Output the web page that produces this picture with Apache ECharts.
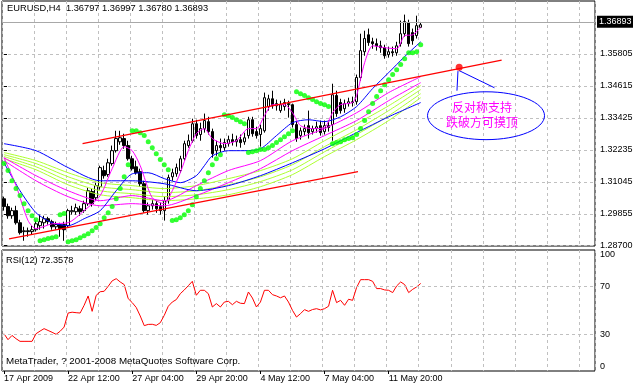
<!DOCTYPE html>
<html><head><meta charset="utf-8">
<script src="https://cdn.jsdelivr.net/npm/echarts@6/dist/echarts.min.js"></script>
<style>html,body{margin:0;padding:0;background:#fff}#c{width:633px;height:387px}</style>
</head><body><div id="c"></div>
<script>
const FONT = '"Liberation Sans", Arial, sans-serif';
const symbolName = 'EURUSD,H4';
const slotCount = 148;
const tickLabels = ['17 Apr 2009','22 Apr 12:00','27 Apr 04:00','29 Apr 20:00','4 May 12:00','7 May 04:00','11 May 20:00'];
const priceTicks = [1.28700, 1.29855, 1.31045, 1.32235, 1.33425, 1.34615, 1.35805];
const priceMin = 1.28665, priceMax = 1.37776, priceStep = 0.0119;
const rsiTicks = [0, 30, 70, 100];
const rsiLevels = [30, 70];

// [open, close, low, high]
const candles = [
[1.3042,1.3013,1.2998,1.3050],[1.3013,1.2979,1.2968,1.3024],[1.2979,1.2998,1.2968,1.3009],[1.2998,1.2953,1.2946,1.3016],
[1.2953,1.2916,1.2909,1.2964],[1.2920,1.2923,1.2886,1.2938],[1.2923,1.2920,1.2901,1.2935],[1.2920,1.2927,1.2909,1.2942],
[1.2927,1.2949,1.2920,1.2961],[1.2942,1.2957,1.2927,1.2983],[1.2953,1.2968,1.2931,1.2979],[1.2968,1.2957,1.2946,1.2975],
[1.2957,1.2938,1.2927,1.2964],[1.2938,1.2946,1.2927,1.2957],[1.2946,1.2931,1.2901,1.2953],[1.2946,1.2927,1.2886,1.2957],
[1.2942,1.2998,1.2935,1.3005],[1.2994,1.2998,1.2983,1.3016],[1.2994,1.3009,1.2983,1.3024],[1.3005,1.2994,1.2979,1.3016],
[1.2998,1.3024,1.2990,1.3035],[1.3024,1.3072,1.3016,1.3083],[1.3069,1.3024,1.3013,1.3080],[1.3046,1.3091,1.3035,1.3102],
[1.3087,1.3158,1.3076,1.3165],[1.3147,1.3128,1.3117,1.3165],[1.3132,1.3176,1.3124,1.3191],[1.3173,1.3221,1.3165,1.3240],
[1.3221,1.3266,1.3214,1.3295],[1.3254,1.3269,1.3243,1.3295],[1.3266,1.3240,1.3228,1.3284],[1.3240,1.3191,1.3184,1.3258],
[1.3191,1.3154,1.3147,1.3202],[1.3161,1.3139,1.3132,1.3184],[1.3143,1.3098,1.3087,1.3154],[1.3098,1.2998,1.2990,1.3109],
[1.2998,1.3016,1.2983,1.3028],[1.3016,1.3024,1.3002,1.3039],[1.3024,1.3005,1.2990,1.3035],[1.3013,1.2998,1.2983,1.3028],
[1.2998,1.3035,1.2961,1.3050],[1.3035,1.3121,1.3024,1.3132],[1.3124,1.3139,1.3109,1.3154],[1.3135,1.3158,1.3124,1.3173],
[1.3147,1.3191,1.3139,1.3202],[1.3191,1.3247,1.3184,1.3258],[1.3240,1.3258,1.3232,1.3281],[1.3258,1.3321,1.3251,1.3340],
[1.3321,1.3277,1.3266,1.3336],[1.3281,1.3303,1.3258,1.3325],[1.3303,1.3333,1.3288,1.3359],[1.3329,1.3292,1.3281,1.3347],
[1.3292,1.3210,1.3195,1.3303],[1.3221,1.3240,1.3202,1.3258],[1.3240,1.3232,1.3214,1.3266],[1.3232,1.3251,1.3221,1.3266],
[1.3247,1.3262,1.3236,1.3277],[1.3262,1.3254,1.3240,1.3284],[1.3254,1.3262,1.3236,1.3277],[1.3262,1.3251,1.3232,1.3281],
[1.3254,1.3269,1.3243,1.3288],[1.3277,1.3336,1.3266,1.3347],[1.3336,1.3284,1.3273,1.3347],[1.3292,1.3277,1.3266,1.3310],
[1.3281,1.3303,1.3236,1.3318],[1.3295,1.3418,1.3288,1.3437],[1.3385,1.3414,1.3370,1.3429],[1.3414,1.3388,1.3377,1.3444],
[1.3388,1.3396,1.3370,1.3411],[1.3370,1.3392,1.3362,1.3407],[1.3385,1.3400,1.3370,1.3414],[1.3396,1.3392,1.3344,1.3407],
[1.3392,1.3318,1.3307,1.3396],[1.3318,1.3266,1.3254,1.3329],[1.3277,1.3295,1.3262,1.3307],[1.3292,1.3303,1.3277,1.3318],
[1.3314,1.3288,1.3266,1.3370],[1.3292,1.3303,1.3281,1.3314],[1.3303,1.3310,1.3288,1.3329],[1.3314,1.3288,1.3277,1.3333],
[1.3292,1.3314,1.3281,1.3333],[1.3314,1.3307,1.3292,1.3333],[1.3318,1.3429,1.3258,1.3470],[1.3426,1.3359,1.3347,1.3444],
[1.3400,1.3370,1.3359,1.3414],[1.3377,1.3396,1.3362,1.3411],[1.3396,1.3403,1.3385,1.3418],[1.3403,1.3400,1.3385,1.3422],
[1.3403,1.3493,1.3392,1.3504],[1.3493,1.3593,1.3481,1.3656],[1.3589,1.3638,1.3574,1.3667],[1.3652,1.3623,1.3611,1.3675],
[1.3626,1.3619,1.3600,1.3641],[1.3619,1.3611,1.3593,1.3638],[1.3611,1.3604,1.3585,1.3630],[1.3604,1.3574,1.3563,1.3615],
[1.3578,1.3589,1.3567,1.3608],[1.3589,1.3585,1.3571,1.3608],[1.3585,1.3611,1.3574,1.3626],[1.3619,1.3656,1.3608,1.3705],
[1.3656,1.3701,1.3645,1.3727],[1.3697,1.3619,1.3608,1.3708],[1.3660,1.3630,1.3615,1.3675],[1.3649,1.3686,1.3638,1.3723],
[1.36797,1.36893,1.36780,1.36997]
];

const sar = [
1.3173,1.3147,1.3109,1.3080,1.3054,1.3024,1.2998,1.2979,1.2964,1.2886,
1.2890,1.2894,1.2897,1.2901,1.2983,1.2987,1.2882,1.2886,1.2890,1.2897,
1.2905,1.2912,1.2923,1.2935,1.2949,1.2972,1.2990,1.3013,1.3042,1.3080,
1.3124,1.3169,1.3295,1.3295,1.3288,1.3277,1.3254,1.3232,1.3210,1.3188,
1.3169,1.3150,1.2961,1.2964,1.2972,1.2983,1.2998,1.3020,1.3050,1.3080,
1.3109,1.3139,1.3169,1.3191,1.3206,1.3355,1.3351,1.3344,1.3336,1.3329,
1.3321,1.3214,1.3217,1.3221,1.3225,1.3225,1.3232,1.3240,1.3251,1.3262,
1.3273,1.3284,1.3295,1.3440,1.3433,1.3426,1.3418,1.3411,1.3403,1.3396,
1.3392,1.3385,1.3247,1.3251,1.3254,1.3262,1.3266,1.3269,1.3281,1.3303,
1.3333,1.3366,1.3396,1.3422,1.3444,1.3466,1.3485,1.3504,1.3522,1.3541,
1.3563,1.3585,1.3585,1.3589,1.3615
];

// moving averages: [bar, price]
const maMagentaFast = [[0,1.3195],[3,1.3091],[6,1.2961],[8,1.2931],[12,1.2949],[16,1.2953],[20,1.2998],[24,1.3054],[27,1.3154],[30,1.3236],[32,1.3221],[34,1.3165],[37,1.3046],[40,1.3024],[42,1.3072],[44,1.3139],[46,1.3221],[48,1.3284],[50,1.3303],[52,1.3266],[55,1.3247],[58,1.3258],[61,1.3303],[63,1.3303],[65,1.3351],[67,1.3392],[70,1.3392],[72,1.3362],[74,1.3314],[77,1.3303],[80,1.3307],[82,1.3362],[84,1.3392],[87,1.3400],[88,1.3426],[90,1.3548],[92,1.3611],[95,1.3604],[98,1.3600],[100,1.3649],[102,1.3652],[104,1.3679]];
const maBlueFast = [[0,1.3176],[4,1.3072],[8,1.2990],[12,1.2953],[16,1.2942],[20,1.2968],[24,1.2998],[28,1.3072],[32,1.3135],[36,1.3139],[40,1.3117],[44,1.3102],[48,1.3128],[50,1.3165],[52,1.3202],[56,1.3221],[60,1.3221],[64,1.3228],[68,1.3277],[72,1.3325],[76,1.3336],[80,1.3329],[84,1.3347],[88,1.3385],[92,1.3452],[96,1.3511],[100,1.3571],[104,1.3626]];
const maBlueSlow = [[0,1.3247],[8,1.3221],[16,1.3158],[24,1.3109],[32,1.3109],[40,1.3098],[48,1.3072],[56,1.3091],[64,1.3128],[72,1.3176],[80,1.3228],[88,1.3288],[96,1.3347],[104,1.3400]];
const maMagenta2 = [[0,1.3195],[8,1.3128],[16,1.3072],[24,1.3035],[32,1.3054],[40,1.3035],[48,1.3091],[56,1.3147],[64,1.3184],[72,1.3258],[80,1.3303],[88,1.3362],[96,1.3437],[104,1.3496]];
const maMagenta3 = [[0,1.3184],[8,1.3109],[16,1.3050],[24,1.3016],[32,1.3024],[40,1.3016],[48,1.3054],[56,1.3102],[64,1.3154],[72,1.3221],[80,1.3277],[88,1.3333],[96,1.3407],[104,1.3474]];
const maYellow1 = [[0,1.3214],[8,1.3184],[16,1.3139],[24,1.3102],[32,1.3091],[40,1.3080],[48,1.3091],[56,1.3117],[64,1.3147],[72,1.3191],[80,1.3258],[88,1.3321],[96,1.3388],[104,1.3463]];
const maYellow2 = [[0,1.3206],[8,1.3173],[16,1.3124],[24,1.3087],[32,1.3076],[40,1.3065],[48,1.3072],[56,1.3094],[64,1.3124],[72,1.3169],[80,1.3236],[88,1.3299],[96,1.3370],[104,1.3448]];
const maYellow3 = [[0,1.3199],[8,1.3161],[16,1.3109],[24,1.3072],[32,1.3061],[40,1.3050],[48,1.3057],[56,1.3076],[64,1.3106],[72,1.3150],[80,1.3217],[88,1.3281],[96,1.3351],[104,1.3433]];
const maYellow4 = [[0,1.3191],[8,1.3150],[16,1.3094],[24,1.3057],[32,1.3046],[40,1.3035],[48,1.3042],[56,1.3057],[64,1.3087],[72,1.3132],[80,1.3199],[88,1.3262],[96,1.3333],[104,1.3418]];

const rsi = [30.8,25.9,29.4,26.7,24.5,24.5,24.5,24.5,30.8,33.0,
35.0,33.5,32.0,30.3,32.8,36.3,47.9,48.6,48.2,47.9,
54.3,62.0,49.3,62.5,65.5,65.9,70.0,74.5,76.3,73.6,
71.4,59.8,56.5,52.5,45.5,37.5,38.5,38.6,37.7,39.9,
46.0,53.5,57.0,59.0,63.9,67.0,70.5,74.1,62.6,66.7,
66.7,63.9,52.9,55.7,52.9,57.0,57.6,54.8,57.6,56.0,
55.7,65.3,60.3,52.9,57.0,66.7,66.7,63.1,62.0,60.5,
62.0,57.0,50.1,44.6,47.4,50.7,49.3,50.8,51.5,50.5,
51.5,53.5,66.7,56.5,58.4,54.3,59.3,58.4,69.0,75.5,
75.5,75.5,74.1,68.1,68.1,67.0,66.7,64.8,70.3,73.6,
71.4,64.8,67.5,69.5,72.3578];

const trendUpper = [[19.6,1.3247],[124.2,1.3558]];
const trendLower = [[1.25,1.2893],[88.35,1.3143]];
const notePoint = [113.6, 1.3531];
const notePointerA = [[113.3,1.3517],[113.05,1.3444]];
const notePointerB = [[113.55,1.3519],[122.4,1.3455]];
const noteCenter = [120.3, 1.3351];
const noteRadius = [14.6, 0.0089];
const noteText = '反对称支持\n跌破方可摸顶';

const last = candles[candles.length - 1];
const headerText = symbolName + '  ' + [last[0], last[3], last[2], last[1]].map(v => v.toFixed(5)).join(' ');
const rsiText = 'RSI(12) ' + rsi[rsi.length - 1].toFixed(4);
const copyright = 'MetaTrader, ? 2001-2008 MetaQuotes Software Corp.';

const cats = Array.from({length: slotCount}, (_, i) => String(i));
const grid8 = (i) => i % 8 === 0;
const dash = {color: '#c0c0c0', type: [3, 3], width: 1};

function maLine(data, color) {
  return {type: 'line', xAxisIndex: 2, yAxisIndex: 0, data, symbol: 'none', smooth: 0.25,
    lineStyle: {color, width: 1}, silent: true, z: 3};
}

const chart = echarts.init(document.getElementById('c'), null, {renderer: 'canvas'});
chart.setOption({
  animation: false,
  backgroundColor: '#fff',
  grid: [
    {left: 2, top: 1, width: 593, height: 245, show: true, borderColor: '#000', borderWidth: 1, backgroundColor: '#fff', outerBoundsMode: 'none'},
    {left: 2, top: 250, width: 593, height: 121, show: true, borderColor: '#000', borderWidth: 1, backgroundColor: '#fff', outerBoundsMode: 'none'}
  ],
  xAxis: [
    {type: 'category', gridIndex: 0, data: cats, boundaryGap: true,
     axisLine: {show: false}, axisTick: {show: false}, axisLabel: {show: false},
     splitLine: {show: true, interval: grid8, lineStyle: dash}},
    {type: 'category', gridIndex: 1, data: cats, boundaryGap: true,
     axisLine: {show: false},
     axisTick: {show: true, alignWithLabel: true, length: 3, interval: (i) => i % 16 === 0 && i / 16 < tickLabels.length, lineStyle: {color: '#000'}},
     axisLabel: {show: true, interval: (i) => i % 16 === 0 && i / 16 < tickLabels.length,
       formatter: (v, i) => tickLabels[Math.round(Number(v) / 16)] || '',
       align: 'left', margin: 3, fontSize: 9, color: '#000', fontFamily: FONT},
     splitLine: {show: true, interval: grid8, lineStyle: dash}},
    {type: 'value', gridIndex: 0, min: -0.5, max: slotCount - 0.5, show: false}
  ],
  yAxis: [
    {type: 'value', gridIndex: 0, position: 'right', min: priceMin, max: priceMax, interval: priceStep,
     axisLine: {show: false},
     axisTick: {show: true, customValues: priceTicks, length: 3, lineStyle: {color: '#000'}},
     axisLabel: {customValues: priceTicks, formatter: (v) => v.toFixed(5), margin: 5, fontSize: 9, color: '#000', fontFamily: FONT},
     splitLine: {show: true, lineStyle: dash}},
    {type: 'value', gridIndex: 1, position: 'right', min: 0, max: 100, interval: 10,
     axisLine: {show: false}, axisTick: {show: false},
     axisLabel: {customValues: rsiTicks, formatter: (v) => rsiTicks.includes(v) ? String(v) : '',
       verticalAlignMinLabel: 'bottom', verticalAlignMaxLabel: 'top',
       margin: 5, fontSize: 9, color: '#000', fontFamily: FONT},
     splitLine: {show: false}}
  ],
  series: [
    {type: 'candlestick', xAxisIndex: 0, yAxisIndex: 0, data: candles, barWidth: 3, z: 2, silent: true,
     itemStyle: {color: '#fff', color0: '#000', borderColor: '#000', borderColor0: '#000', borderWidth: 1},
     markLine: {silent: true, symbol: ['none', 'none'], data: [{yAxis: last[1]}],
       lineStyle: {color: '#a8a8a8', type: 'solid', width: 1},
       label: {position: 'end', formatter: last[1].toFixed(5), color: '#fff', backgroundColor: '#000',
         padding: [2, 2, 1, 2], fontSize: 9, distance: 2, fontFamily: FONT}}},
    maLine(maYellow4, '#adff2f'),
    maLine(maYellow3, '#adff2f'),
    maLine(maYellow2, '#adff2f'),
    maLine(maYellow1, '#adff2f'),
    maLine(maMagenta3, '#ff00ff'),
    maLine(maMagenta2, '#ff00ff'),
    maLine(maBlueSlow, '#0000ff'),
    maLine(maBlueFast, '#0000ff'),
    maLine(maMagentaFast, '#ff00ff'),
    {type: 'scatter', xAxisIndex: 0, yAxisIndex: 0, data: sar, symbol: 'circle', symbolSize: 5,
     itemStyle: {color: '#00ff00'}, silent: true, z: 4},
    {id: 'trendUp', type: 'line', xAxisIndex: 2, yAxisIndex: 0, data: trendUpper, symbol: 'none', lineStyle: {color: '#ff0000', width: 1.3}, silent: true, z: 5},
    {type: 'line', xAxisIndex: 2, yAxisIndex: 0, data: trendLower, symbol: 'none', lineStyle: {color: '#ff0000', width: 1.3}, silent: true, z: 5},
    {type: 'line', xAxisIndex: 2, yAxisIndex: 0, data: notePointerA, symbol: 'none', lineStyle: {color: '#0000ff', width: 1}, silent: true, z: 5},
    {type: 'line', xAxisIndex: 2, yAxisIndex: 0, data: notePointerB, symbol: 'none', lineStyle: {color: '#0000ff', width: 1}, silent: true, z: 5},
    {type: 'scatter', xAxisIndex: 2, yAxisIndex: 0, data: [notePoint], symbol: 'circle', symbolSize: 7, itemStyle: {color: '#ff0000'}, silent: true, z: 6},
    {type: 'line', xAxisIndex: 1, yAxisIndex: 1, data: rsi, symbol: 'none', lineStyle: {color: '#ff0000', width: 1}, silent: true, z: 3,
     markLine: {silent: true, symbol: ['none', 'none'], data: rsiLevels.map(v => ({yAxis: v})), label: {show: false},
       lineStyle: dash}}
  ]
});

const c0 = chart.convertToPixel({seriesId: 'trendUp'}, noteCenter);
const c1 = chart.convertToPixel({seriesId: 'trendUp'}, [noteCenter[0] + noteRadius[0], noteCenter[1] + noteRadius[1]]);
const rx = c1[0] - c0[0], ry = c0[1] - c1[1];

chart.setOption({
  graphic: [
    {type: 'text', left: 7, top: 4, silent: true, style: {text: headerText, font: '9.3px ' + FONT, fill: '#000'}},
    {type: 'text', left: 6, top: 256, silent: true, style: {text: rsiText, font: '9.2px ' + FONT, fill: '#000'}},
    {type: 'text', left: 6, top: 356, silent: true, style: {text: copyright, font: '9.8px ' + FONT, fill: '#000'}},
    {type: 'ellipse', silent: true, z: 10, shape: {cx: c0[0], cy: c0[1], rx, ry}, style: {fill: 'none', stroke: '#0000ff', lineWidth: 1}},
    {type: 'text', silent: true, z: 11, x: c0[0] - 4, y: c0[1] - 1,
     style: {text: noteText, font: '12px "Noto Sans CJK SC"', fill: '#ff00ff', align: 'center', verticalAlign: 'middle', lineHeight: 15.5}}
  ]
});
</script>
</body></html>
